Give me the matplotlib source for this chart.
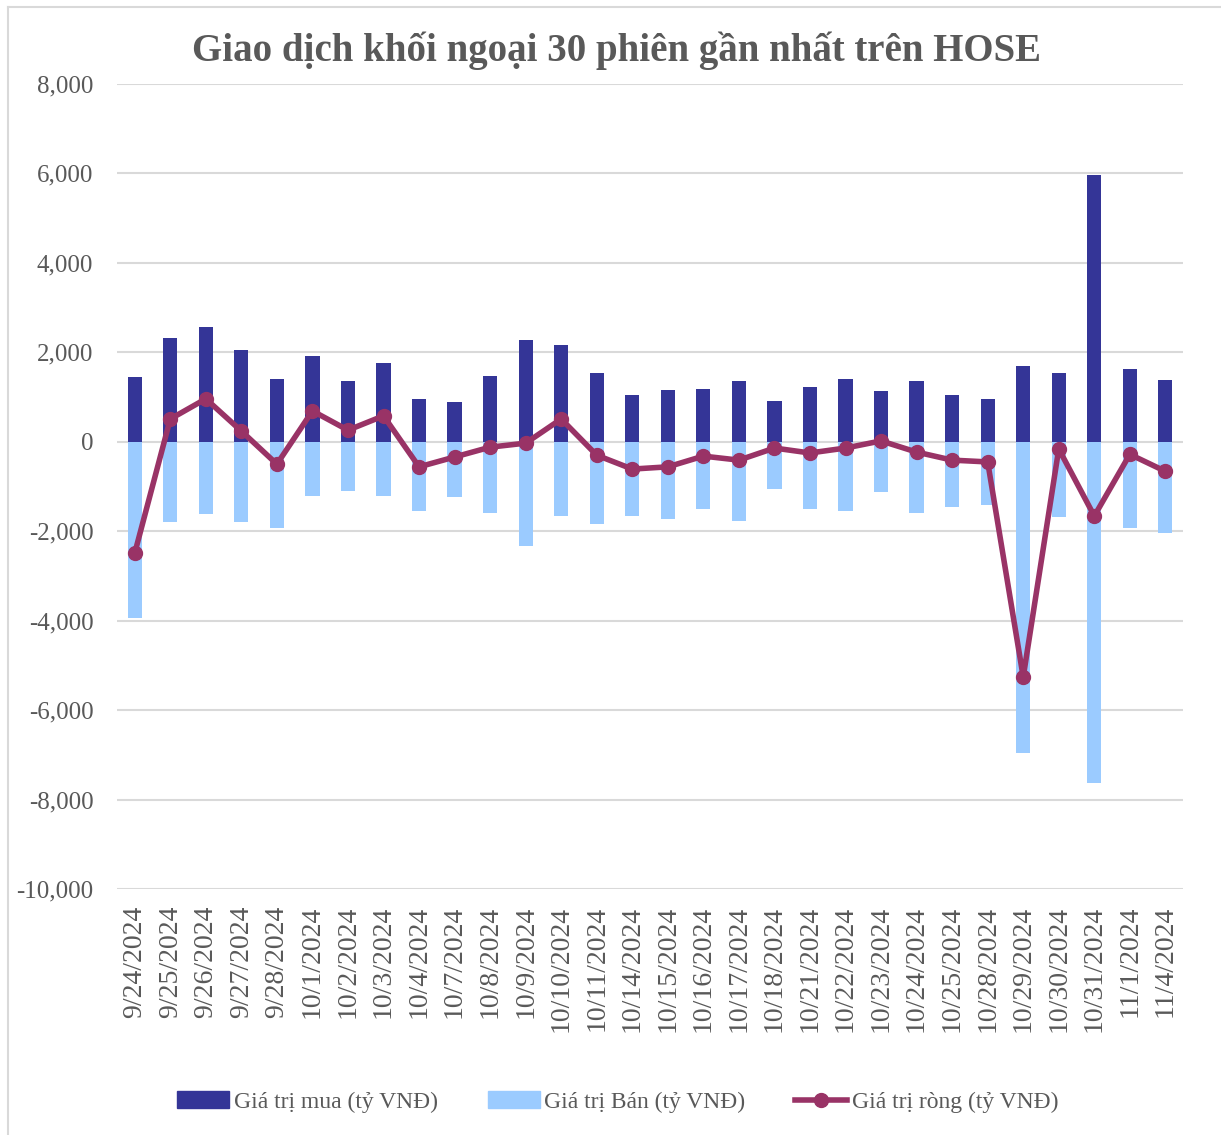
import matplotlib.pyplot as plt
import numpy as np
from matplotlib.lines import Line2D

dates = ['9/24/2024', '9/25/2024', '9/26/2024', '9/27/2024', '9/28/2024',
         '10/1/2024', '10/2/2024', '10/3/2024', '10/4/2024', '10/7/2024',
         '10/8/2024', '10/9/2024', '10/10/2024', '10/11/2024', '10/14/2024',
         '10/15/2024', '10/16/2024', '10/17/2024', '10/18/2024', '10/21/2024',
         '10/22/2024', '10/23/2024', '10/24/2024', '10/25/2024', '10/28/2024',
         '10/29/2024', '10/30/2024', '10/31/2024', '11/1/2024', '11/4/2024']

buy = [1450, 2320, 2560, 2050, 1400, 1920, 1360, 1760, 960, 890,
       1470, 2280, 2160, 1540, 1050, 1160, 1180, 1360, 910, 1230,
       1400, 1140, 1360, 1050, 960, 1700, 1540, 5970, 1630, 1380]

sell = [-3940, -1790, -1610, -1790, -1930, -1210, -1100, -1210, -1550, -1230,
        -1590, -2330, -1660, -1840, -1660, -1730, -1500, -1770, -1060, -1500,
        -1550, -1120, -1590, -1460, -1410, -6960, -1680, -7630, -1930, -2040]

net = [-2490, 510, 960, 240, -500, 690, 260, 580, -560, -340,
       -120, -30, 510, -300, -610, -560, -320, -410, -140, -250,
       -140, 20, -230, -410, -450, -5260, -160, -1660, -280, -660]

font = 'Liberation Serif'
plt.rcParams['font.family'] = [font, 'DejaVu Serif']

fig = plt.figure(figsize=(12.21, 11.35), dpi=100)
ax = fig.add_axes([0.0958, 0.2167, 0.8732, 0.7093])

x = np.arange(len(dates))
ax.bar(x, buy, width=0.4, color='#343597', zorder=2)
ax.bar(x, sell, width=0.4, color='#9bcbff', zorder=2)
ax.plot(x, net, color='#993366', lw=4, marker='o', ms=10, zorder=3)

ax.set_xlim(-0.5, len(dates) - 0.5)
ax.set_ylim(-10000, 8000)
ax.set_yticks(np.arange(-10000, 8001, 2000))
ax.set_yticklabels([f'{v:,}' for v in range(-10000, 8001, 2000)])
ax.yaxis.grid(True, color='#d9d9d9', lw=1.5, zorder=0)
ax.set_xticks(x)
ax.set_xticklabels(dates, rotation=90)
ax.tick_params(axis='both', length=0, colors='#595959')
ax.tick_params(axis='y', pad=17, labelsize=18)
ax.tick_params(axis='x', pad=12, labelsize=20)
for s in ax.spines.values():
    s.set_visible(False)

fig.text(0.505, 0.955, 'Giao dịch khối ngoại 30 phiên gần nhất trên HOSE',
         ha='center', va='center', fontsize=28, fontweight='bold', color='#595959')

handles = [plt.Rectangle((0, 0), 1, 1, color='#343597'),
           plt.Rectangle((0, 0), 1, 1, color='#9bcbff'),
           Line2D([0], [0], color='#993366', lw=4, marker='o', ms=10)]
labels = ['Giá trị mua (tỷ VNĐ)', 'Giá trị Bán (tỷ VNĐ)', 'Giá trị ròng (tỷ VNĐ)']
leg = fig.legend(handles, labels, loc='center', bbox_to_anchor=(0.506, 0.029), ncol=3,
                 frameon=False, fontsize=17, handlelength=2.2, handletextpad=0.2,
                 columnspacing=2.1)
for t in leg.get_texts():
    t.set_color('#595959')

fig.add_artist(Line2D([8 / 1221, 8 / 1221], [0, 1 - 7 / 1135], color='#d9d9d9', lw=1.5))
fig.add_artist(Line2D([8 / 1221, 1], [1 - 7 / 1135, 1 - 7 / 1135], color='#d9d9d9', lw=1.5))

fig.savefig('out.png', dpi=100)
